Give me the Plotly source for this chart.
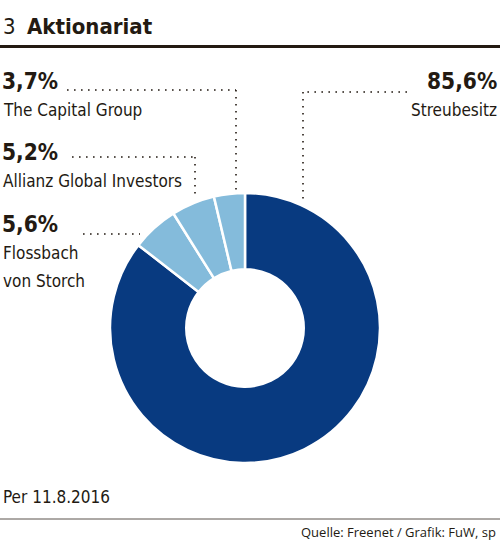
import plotly.graph_objects as go

# Aktionariat Freenet, Stand 11.8.2016
holders = ["Streubesitz", "Flossbach von Storch", "Allianz Global Investors", "The Capital Group"]
shares = [85.6, 5.6, 5.2, 3.7]
slice_colors = ["#083a80", "#84bbdb", "#84bbdb", "#84bbdb"]

W, H = 500, 543
TXT = "#231a12"
NARROW = "DejaVu Sans Condensed"


def px(x):
    return x / W


def py(y):
    return 1 - y / H


fig = go.Figure()

fig.add_trace(go.Pie(
    labels=holders,
    values=shares,
    sort=False,
    direction="clockwise",
    rotation=0,
    hole=0.435,
    marker=dict(colors=slice_colors, line=dict(color="white", width=2.5)),
    textinfo="none",
    hoverinfo="label+value",
    showlegend=False,
    domain=dict(x=[px(110), px(380)], y=[py(463), py(193)]),
))

annotations = []


def label(x, y, text, size, bold=False, align="left", font=NARROW):
    annotations.append(dict(
        x=px(x), y=py(y), xref="paper", yref="paper",
        xanchor=align, yanchor="middle", showarrow=False,
        text=f"<b>{text}</b>" if bold else text,
        font=dict(family=font, size=size, color=TXT),
        align=align,
    ))


# title
label(1, 27, "3", 22)
label(25, 27, "Aktionariat", 22, bold=True)

# percentage labels
pct = {h: f"{v:.1f}%".replace(".", ",") for h, v in zip(holders, shares)}

label(0, 81, pct["The Capital Group"], 22.5, bold=True)
label(1, 110, "The Capital Group", 17)
label(0, 152, pct["Allianz Global Investors"], 22.5, bold=True)
label(1, 181, "Allianz Global Investors", 17)
label(0, 224, pct["Flossbach von Storch"], 22.5, bold=True)
label(1, 253, "Flossbach", 17)
label(1, 281, "von Storch", 17)
label(499, 81, pct["Streubesitz"], 22.5, bold=True, align="right")
label(499, 110, "Streubesitz", 17, align="right")

# footer
label(1, 497, "Per 11.8.2016", 17)
label(498, 532, "Quelle: Freenet / Grafik: FuW, sp", 13, align="right", font="Open Sans")

shapes = [
    dict(type="line", xref="paper", yref="paper", x0=0, x1=1, y0=py(46.5), y1=py(46.5),
         line=dict(color=TXT, width=3)),
    dict(type="line", xref="paper", yref="paper", x0=0, x1=1, y0=py(519), y1=py(519),
         line=dict(color="#5a534c", width=1)),
]

# dotted leader lines
leaders = [
    [(67, 90), (236, 90), (236, 190)],
    [(72, 157), (195, 157), (195, 196)],
    [(83, 234), (140, 234)],
    [(407, 92), (303, 92), (303, 203)],
]
for pts in leaders:
    for (x0, y0), (x1, y1) in zip(pts[:-1], pts[1:]):
        shapes.append(dict(
            type="line", xref="paper", yref="paper",
            x0=px(x0), y0=py(y0), x1=px(x1), y1=py(y1),
            line=dict(color=TXT, width=1.6, dash="1.6px,5.4px"),
        ))

fig.update_layout(
    width=W, height=H,
    margin=dict(l=0, r=0, t=0, b=0),
    paper_bgcolor="white",
    plot_bgcolor="white",
    annotations=annotations,
    shapes=shapes,
)

fig.write_html("out.html", config={"displayModeBar": False},
               post_script="document.body.style.margin='0';")
